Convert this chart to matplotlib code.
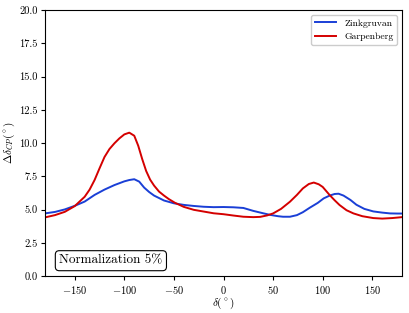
import matplotlib
matplotlib.use('Agg')
import matplotlib.pyplot as plt

plt.rcParams['font.family'] = 'serif'
plt.rcParams['font.serif'] = ['cmr10']
plt.rcParams['mathtext.fontset'] = 'cm'
plt.rcParams['axes.formatter.use_mathtext'] = True

# Zinkgruvan
zink_d = [-180, -170, -160, -150, -140, -130, -120, -110, -100, -95, -90, -85, -80,
          -75, -70, -60, -50, -40, -30, -20, -10, 0, 10, 20, 30, 40, 47, 55, 60, 67,
          74, 80, 87, 95, 101, 107, 112, 116, 121, 128, 134, 142, 151, 160, 168, 175, 180]
zink_v = [4.71, 4.82, 5.01, 5.28, 5.60, 6.10, 6.50, 6.84, 7.12, 7.22, 7.28, 7.10, 6.65,
          6.32, 6.05, 5.68, 5.47, 5.35, 5.27, 5.21, 5.18, 5.19, 5.17, 5.12, 4.90, 4.72,
          4.60, 4.50, 4.46, 4.46, 4.58, 4.80, 5.14, 5.50, 5.84, 6.05, 6.17, 6.19, 6.05,
          5.72, 5.36, 5.05, 4.86, 4.77, 4.71, 4.70, 4.70]

# Garpenberg
garp_d = [-180, -170, -160, -150, -140, -135, -130, -125, -120, -115, -110, -105, -100,
          -95, -90, -86, -82, -78, -74, -70, -65, -60, -55, -49, -40, -30, -20, -10, 0, 10,
          20, 30, 37, 44, 50, 58, 67, 74, 80, 86, 91, 96, 100, 107, 112, 117, 124, 131,
          140, 151, 160, 170, 180]
garp_v = [4.41, 4.58, 4.83, 5.26, 5.96, 6.50, 7.22, 8.10, 8.95, 9.55, 9.98, 10.35, 10.65,
          10.78, 10.55, 9.80, 8.80, 7.90, 7.25, 6.80, 6.35, 6.05, 5.78, 5.51, 5.20, 4.98,
          4.85, 4.72, 4.65, 4.55, 4.46, 4.43, 4.45, 4.56, 4.71, 5.05, 5.59, 6.10, 6.59,
          6.92, 7.03, 6.90, 6.70, 6.09, 5.70, 5.34, 4.95, 4.71, 4.50, 4.36, 4.32, 4.36, 4.43]

fig = plt.figure(figsize=(4.09, 3.13), dpi=100)
ax = fig.add_axes([0.110, 0.118, 0.873, 0.850])

ax.plot(zink_d, zink_v, color='#1a3fd6', lw=1.4, label='Zinkgruvan')
ax.plot(garp_d, garp_v, color='#d40000', lw=1.4, label='Garpenberg')

ax.set_xlim(-180, 180)
ax.set_ylim(0, 20)
ax.set_yticks([0, 2.5, 5, 7.5, 10, 12.5, 15, 17.5, 20])
ax.set_yticklabels(['0.0', '2.5', '5.0', '7.5', '10.0', '12.5', '15.0', '17.5', '20.0'])
ax.tick_params(labelsize=7.5, length=3, pad=2.5)
ax.set_xlabel(r'$\delta(^\circ)$', fontsize=8, labelpad=0)
ax.set_ylabel(r'$\Delta\delta_{CP}(^\circ)$', fontsize=8, labelpad=1)

ax.legend(loc='upper right', fontsize=7, handlelength=2.2, fancybox=True,
          framealpha=1.0, edgecolor='#cccccc')

ax.text(0.04, 0.035, 'Normalization 5%', transform=ax.transAxes, fontsize=9.5,
        ha='left', va='bottom',
        bbox=dict(boxstyle='round,pad=0.3', facecolor='white', edgecolor='black', lw=0.8))

fig.savefig('out.png', dpi=100)
